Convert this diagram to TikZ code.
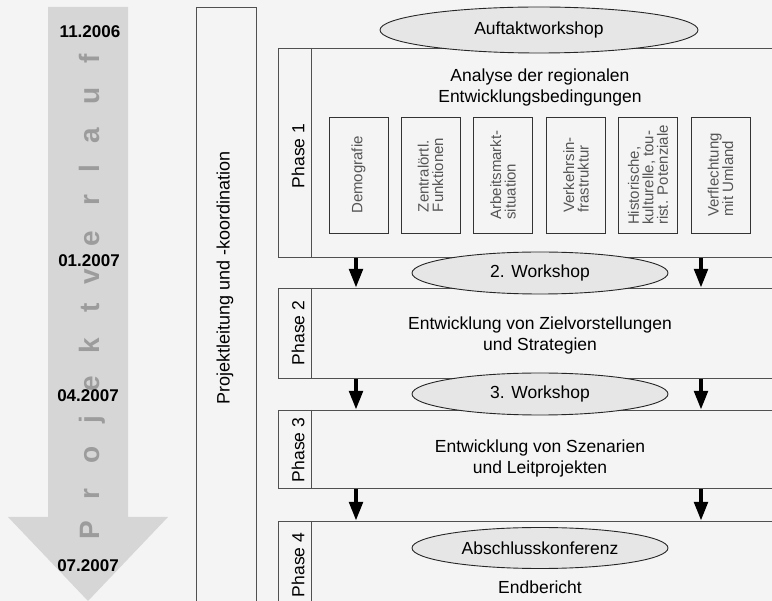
\documentclass[tikz,border=0pt]{standalone}
\usepackage{fontspec}
\setmainfont{Liberation Sans}
\usetikzlibrary{arrows.meta,shapes.geometric}
\definecolor{bg}{HTML}{F4F4F4}
\definecolor{arrowgray}{HTML}{D6D6D6}
\definecolor{lettergray}{HTML}{9C9C9C}
\definecolor{linegray}{HTML}{505050}
\definecolor{ellfill}{HTML}{E6E6E6}
\definecolor{subtext}{HTML}{555555}
\newcommand{\vlfont}{\fontsize{28}{28}\selectfont\bfseries}
\newcommand{\subfont}{\fontsize{15}{14.5}\selectfont}
\tikzset{
  bigfont/.style={font=\fontsize{17.5}{21}\selectfont},
  vletter/.style={rotate=90, anchor=base, inner sep=0pt, text=lettergray},
  datelabel/.style={inner sep=0pt, font=\fontsize{17}{20}\selectfont\bfseries, text=black},
  phasebox/.style={draw=linegray, line width=1pt, fill=bg, anchor=north west, inner sep=0pt},
  phaselabel/.style={rotate=90, inner sep=0pt, bigfont},
  maintext/.style={align=center, inner sep=0pt, bigfont},
  wsell/.style={ellipse, draw=black!85, fill=ellfill, line width=0.9pt, inner sep=0pt, bigfont},
  subbox/.style={rotate=90, draw=black!80, line width=0.9pt, fill=bg, minimum width=116pt, minimum height=59pt, inner sep=0pt, align=left, text=subtext, font=\subfont},
  bigarrow/.style={draw=black, line width=4.5pt, -{Triangle[length=19pt,width=13pt]}, shorten >=0pt},
}
\begin{document}
\begin{tikzpicture}[x=1pt,y=-1pt]
\useasboundingbox (0,0) rectangle (772,601);
\clip (0,0) rectangle (772,601);
\fill[bg] (0,0) rectangle (772,601);

% timeline arrow
\fill[arrowgray] (48,7) -- (128,7) -- (128,517) -- (168,517) -- (88,601) -- (8,517) -- (48,517) -- cycle;
\foreach \l/\y [count=\i] in {P/530, r/494, o/455, j/420, e/384, k/346, t/308, v/277, e/239, r/200, l/169, a/136, u/96, f/59}
  \node[vletter] (L\i) at (99,\y) {\vlfont\l};

\node[datelabel] (d1) at (90,32) {11.2006};
\node[datelabel] (d2) at (89,261) {01.2007};
\node[datelabel] (d3) at (88,396) {04.2007};
\node[datelabel] (d4) at (88,566) {07.2007};

% Projektleitung
\draw[linegray, line width=1pt, fill=bg] (196,8) rectangle (256,620);
\node[rotate=90, inner sep=0pt, font=\fontsize{18}{21}\selectfont] (pl) at (225,278) {Projektleitung und -koordination};

% phase boxes
\node[phasebox, minimum width=510pt, minimum height=209pt] (p1) at (278,48) {};
\node[phasebox, minimum width=510pt, minimum height=90pt] (p2) at (278,288) {};
\node[phasebox, minimum width=510pt, minimum height=78pt] (p3) at (278,410) {};
\node[phasebox, minimum width=510pt, minimum height=100pt] (p4) at (278,521) {};
\draw[linegray, line width=1pt] (311,48) -- (311,257);
\draw[linegray, line width=1pt] (311,288) -- (311,378);
\draw[linegray, line width=1pt] (311,410) -- (311,488);
\draw[linegray, line width=1pt] (311,521) -- (311,621);

\node[phaselabel] (ph1) at (298,156) {Phase 1};
\node[phaselabel] (ph2) at (298,333) {Phase 2};
\node[phaselabel] (ph3) at (298,450) {Phase 3};
\node[phaselabel] (ph4) at (298,565) {Phase 4};

% texts
\node[maintext] (t1) at (540,87) {Analyse der regionalen\\Entwicklungsbedingungen};
\node[maintext] (t2) at (540,335) {Entwicklung von Zielvorstellungen\\und Strategien};
\node[maintext] (t3) at (540,458) {Entwicklung von Szenarien\\und Leitprojekten};
\node[maintext] (t4) at (540,587) {Endbericht};

% sub boxes
\node[subbox] (s1) at (358.5,175) {Demografie};
\node[subbox] (s2) at (430.5,175) {Zentralörtl.\\Funktionen};
\node[subbox] (s3) at (503,175) {Arbeitsmarkt-\\situation};
\node[subbox] (s4) at (576,175) {Verkehrsin-\\frastruktur};
\node[subbox] (s5) at (648,175) {Historische,\\kulturelle, tou-\\rist. Potenziale};
\node[subbox] (s6) at (720.5,175) {Verflechtung\\mit Umland};

% arrows
\coordinate (ax1) at (356,0);
\coordinate (ax2) at (701,0);
\foreach \a/\b in {p1/p2, p2/p3, p3/p4}{
  \draw[bigarrow] (\a.south -| ax1) -- (\b.north -| ax1);
  \draw[bigarrow] (\a.south -| ax2) -- (\b.north -| ax2);
}

% workshops
\node[wsell, minimum width=318pt, minimum height=46pt] (w1) at (539,30) {Auftaktworkshop};
\node[wsell, minimum width=256pt, minimum height=42pt] (w2) at (540,273) {2. Workshop};
\node[wsell, minimum width=256pt, minimum height=42pt] (w3) at (540,394) {3. Workshop};
\node[wsell, minimum width=256pt, minimum height=41pt] (w4) at (540,548) {Abschlusskonferenz};
\end{tikzpicture}
\end{document}
